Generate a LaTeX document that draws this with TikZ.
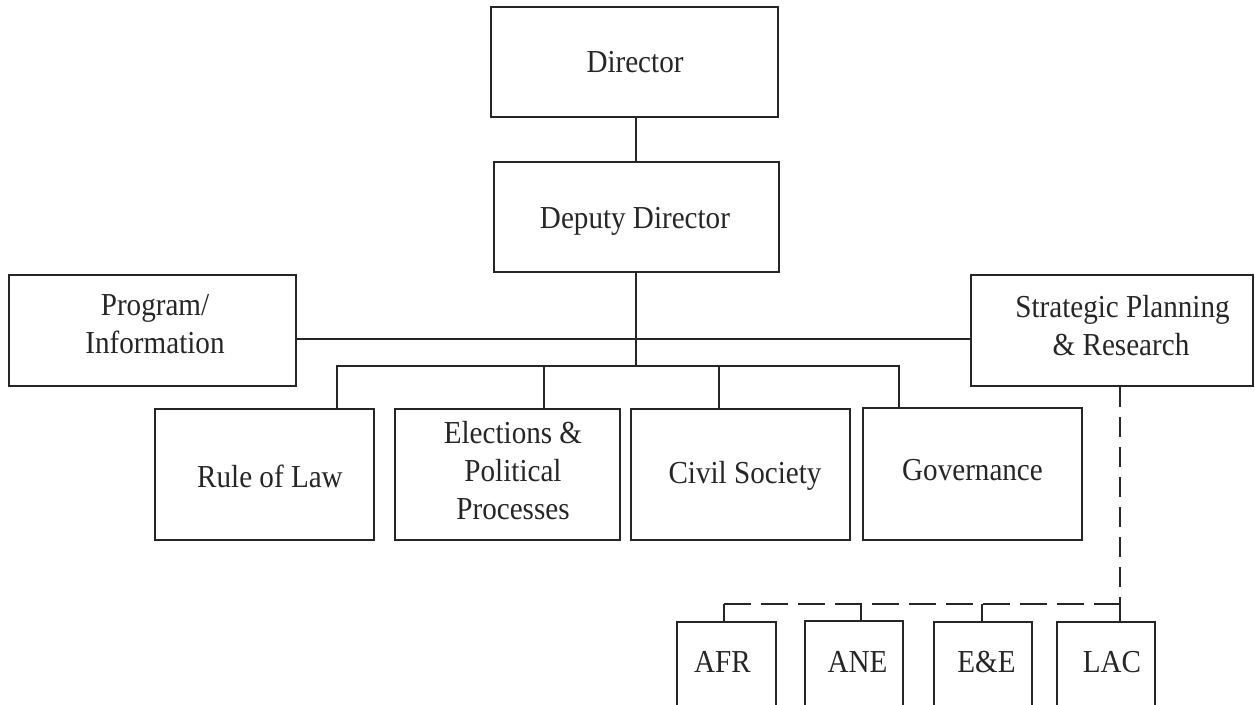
\documentclass[tikz,border=0pt]{standalone}
\usepackage{fontspec}
\setmainfont{Liberation Serif}[FakeStretch=0.91]
\begin{document}
\begin{tikzpicture}[x=1pt,y=-1pt,
  box/.style={draw=black!85, line width=2.9pt, inner sep=0pt},
  txt/.style={anchor=base, inner sep=0pt, font=\fontsize{32}{38}\selectfont, text=black!85},
  link/.style={draw=black!85, line width=2.9pt},
  dlinkv/.style={link, dash pattern=on 20pt off 10pt},
  dlinkh/.style={link, dash pattern=on 27pt off 10pt}]
\useasboundingbox (0,0) rectangle (1255,704);
\clip (0,0) rectangle (1255,704);
% boxes
\node[box, minimum width=287pt, minimum height=110pt] (dir) at (634.5,62) {};
\node[box, minimum width=285pt, minimum height=110pt] (dep) at (636.5,217) {};
\node[box, minimum width=287pt, minimum height=111pt] (prog) at (152.5,330.5) {};
\node[box, minimum width=282pt, minimum height=111pt] (spr) at (1112,330.5) {};
\node[box, minimum width=219pt, minimum height=131pt] (rol) at (264.5,474.5) {};
\node[box, minimum width=225pt, minimum height=131pt] (epp) at (507.5,474.5) {};
\node[box, minimum width=219pt, minimum height=131pt] (cs) at (740.5,474.5) {};
\node[box, minimum width=219pt, minimum height=132pt] (gov) at (972.5,474) {};
\node[box, minimum width=99pt, minimum height=118pt] (afr) at (726.5,681) {};
\node[box, minimum width=98pt, minimum height=118pt] (ane) at (854,680) {};
\node[box, minimum width=98pt, minimum height=118pt] (ee) at (983,681) {};
\node[box, minimum width=98pt, minimum height=118pt] (lac) at (1106,681) {};
% texts
\node[txt] (tdir) at (635,72) {Director};
\node[txt] (tdep) at (635,228) {Deputy Director};
\node[txt] (tprog1) at (155,315) {Program/};
\node[txt] (tprog2) at (155,353) {Information};
\node[txt] (tspr1) at (1122.5,317) {Strategic Planning};
\node[txt] (tspr2) at (1121,355) {\& Research};
\node[txt] (trol) at (270,487) {Rule of Law};
\node[txt] (tepp1) at (513,443) {Elections \&};
\node[txt] (tepp2) at (513,481) {Political};
\node[txt] (tepp3) at (513,519) {Processes};
\node[txt] (tcs) at (745,483) {Civil Society};
\node[txt] (tgov) at (972.5,480) {Governance};
\node[txt] (tafr) at (722.5,672) {AFR};
\node[txt] (tane) at (857.5,672) {ANE};
\node[txt] (tee) at (986.5,672) {E\&E};
\node[txt] (tlac) at (1112,672) {LAC};
% connectors
\coordinate (hub) at (636,339);
\coordinate (busy) at (636,366);
\draw[link] (dir.south -| hub) -- (dep.north -| hub);
\draw[link] (dep.south -| hub) -- (busy);
\draw[link] (prog.east |- hub) -- (spr.west |- hub);
\coordinate (b1) at (337,366);
\coordinate (b2) at (544,366);
\coordinate (b3) at (719,366);
\coordinate (b4) at (899,366);
\draw[link] (rol.north -| b1) -- (b1) -- (b4) -- (gov.north -| b4);
\draw[link] (b2) -- (epp.north -| b2);
\draw[link] (b3) -- (cs.north -| b3);
\coordinate (dv) at (1120,604);
\coordinate (d1) at (724,604);
\coordinate (d2) at (861,604);
\coordinate (d3) at (982,604);
\draw[dlinkv] (spr.south -| dv) -- (dv);
\draw[dlinkh] (d1) -- (dv);
\draw[link] (dv) -- (lac.north -| dv);
\draw[link] (d1) -- (afr.north -| d1);
\draw[link] (d2) -- (ane.north -| d2);
\draw[link] (d3) -- (ee.north -| d3);
\end{tikzpicture}
\end{document}
